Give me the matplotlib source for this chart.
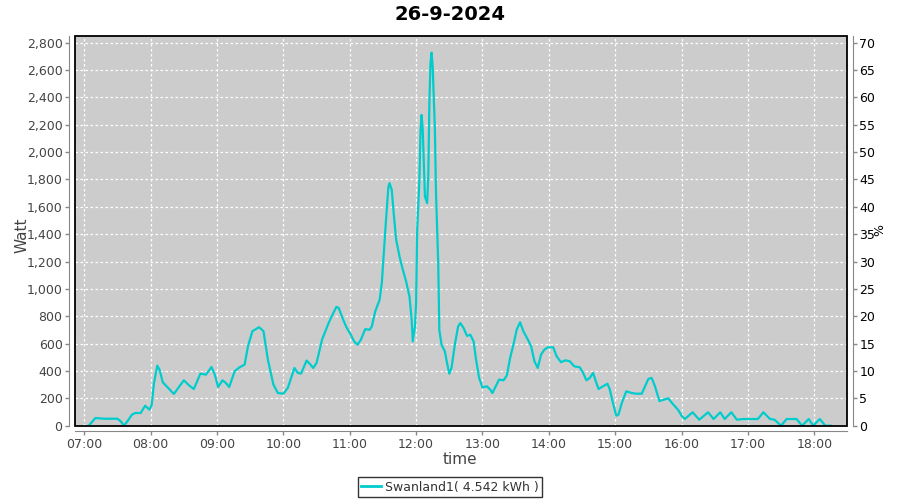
import matplotlib
matplotlib.use("Agg")
import matplotlib.pyplot as plt
from matplotlib.patches import Rectangle
from matplotlib.lines import Line2D
import matplotlib.transforms as mtransforms

title = "26-9-2024"
series_name = "Swanland1( 4.542 kWh )"

times = [
    "07:04", "07:10", "07:18", "07:30", "07:33", "07:36", "07:40", "07:43", "07:46", "07:51",
    "07:55", "07:59", "08:01", "08:03", "08:06", "08:08", "08:11", "08:15", "08:21", "08:26",
    "08:30", "08:35", "08:39", "08:45", "08:50", "08:55", "08:58", "09:01", "09:05", "09:08",
    "09:11", "09:16", "09:20", "09:25", "09:28", "09:32", "09:38", "09:42", "09:46", "09:51",
    "09:55", "10:00", "10:04", "10:10", "10:13", "10:16", "10:21", "10:24", "10:27", "10:30",
    "10:35", "10:41", "10:44", "10:48", "10:50", "10:54", "10:57", "11:01", "11:04", "11:07",
    "11:10", "11:14", "11:18", "11:20", "11:23", "11:27", "11:29", "11:31", "11:33", "11:35",
    "11:36", "11:38", "11:40", "11:42", "11:45", "11:48", "11:51", "11:54", "11:56", "11:57",
    "11:59", "12:00", "12:01", "12:03", "12:04", "12:05", "12:06", "12:07", "12:08", "12:10",
    "12:11", "12:12", "12:13", "12:14", "12:15", "12:17", "12:18", "12:20", "12:21", "12:23",
    "12:26", "12:28", "12:30", "12:32", "12:35", "12:38", "12:40", "12:43", "12:46", "12:49",
    "12:52", "12:54", "12:57", "13:00", "13:04", "13:07", "13:09", "13:12", "13:15", "13:19",
    "13:22", "13:25", "13:28", "13:31", "13:34", "13:37", "13:41", "13:44", "13:47", "13:50",
    "13:53", "13:56", "13:59", "14:04", "14:07", "14:11", "14:15", "14:19", "14:23", "14:28",
    "14:31", "14:34", "14:37", "14:40", "14:43", "14:45", "14:49", "14:53", "14:55", "14:58",
    "15:01", "15:03", "15:06", "15:10", "15:15", "15:19", "15:24", "15:27", "15:30", "15:33",
    "15:36", "15:40", "15:43", "15:48", "15:52", "15:57", "16:00", "16:03", "16:10", "16:16",
    "16:24", "16:29", "16:35", "16:39", "16:45", "16:50", "16:56", "17:03", "17:09", "17:14",
    "17:20", "17:24", "17:30", "17:35", "17:44", "17:49", "17:55", "17:59", "18:05", "18:10",
    "18:15",
]
watts = [
    0, 56, 51, 51, 32, 0, 44, 80, 93, 93,
    146, 117, 154, 312, 439, 410, 317, 283, 232, 288,
    332, 293, 268, 381, 373, 429, 373, 283, 332, 312,
    283, 398, 425, 447, 581, 691, 720, 691, 483, 300,
    239, 234, 276, 422, 386, 381, 476, 451, 422, 459,
    630, 752, 805, 869, 861, 776, 720, 665, 616, 592,
    628, 706, 701, 726, 835, 920, 1042, 1286, 1529, 1748,
    1773, 1724, 1529, 1359, 1237, 1140, 1054, 945, 774, 616,
    726, 896, 1432, 1797, 2162, 2272, 2162, 1919, 1675, 1627,
    1821, 2357, 2649, 2727, 2625, 2162, 1700, 1188, 700, 592,
    543, 458, 380, 421, 592, 726, 750, 713, 657, 665,
    616, 494, 348, 280, 288, 264, 239, 288, 337, 332,
    366, 495, 593, 703, 756, 690, 630, 581, 471, 422,
    520, 556, 573, 573, 508, 464, 478, 471, 434, 427,
    386, 332, 349, 386, 312, 268, 288, 307, 268, 166,
    73, 81, 166, 251, 239, 234, 234, 288, 342, 349,
    288, 180, 188, 200, 160, 115, 73, 49, 98, 44,
    98, 49, 98, 49, 98, 44, 49, 49, 49, 98,
    49, 44, 0, 49, 49, 0, 49, 0, 49, 0,
    0,
]
hour_ticks = list(range(7, 19))
watt_ticks = list(range(0, 2801, 200))
pct_ticks = list(range(0, 71, 5))

def to_hours(s):
    h, m = s.split(":")
    return int(h) + int(m) / 60.0

x = [to_hours(t) for t in times]

plt.rcParams['font.family'] = ['DejaVu Sans']
fig = plt.figure(figsize=(9, 5), dpi=100)
ax = fig.add_axes([75/900, 1-425.7/500, (847-75)/900, (425.7-35.7)/500])
ax.set_facecolor('#cccccc')

line_color = '#00cccc'
ax.plot(x, watts, color=line_color, lw=1.6, zorder=3)

ax.set_xlim(7 - 8.4/60, 18 + 29.6/60)
ymax = 2851
ax.set_ylim(0, ymax)
ax.set_xticks(hour_ticks)
ax.set_xticklabels([f"{h:02d}:00" for h in hour_ticks])
ax.set_yticks(watt_ticks)
ax.set_yticklabels([f"{v:,}" for v in watt_ticks])
ax.grid(True, color='white', linestyle=(0, (2, 2)), lw=0.9)
ax.set_axisbelow(True)

tick_color = '#444444'
axis_gray = '#888888'
for side in ['left', 'bottom']:
    ax.spines[side].set_position(('outward', 4))
    ax.spines[side].set_color(axis_gray)
ax.spines['top'].set_visible(False)
ax.spines['right'].set_visible(False)
ax.add_patch(Rectangle((0, 0), 1, 1, transform=ax.transAxes, fill=False,
                       edgecolor='black', lw=1.3, zorder=5, clip_on=False))
ax.tick_params(axis='both', colors=axis_gray, labelcolor=tick_color,
               labelsize=9, length=3, width=1, direction='out')
ax.tick_params(axis='x', pad=2)
ax.tick_params(axis='y', pad=2)

ax2 = ax.twinx()
ax2.set_ylim(0, ymax / 40.0)
ax2.set_yticks(pct_ticks)
ax2.set_yticklabels([str(v) for v in pct_ticks])
for side in ['left', 'top', 'bottom']:
    ax2.spines[side].set_visible(False)
ax2.spines['right'].set_position(('outward', 4))
ax2.spines['right'].set_color(axis_gray)
ax2.tick_params(axis='y', colors=axis_gray, labelcolor='black',
                labelsize=9, length=3, width=1, pad=2)

fig.text(0.5, 1 - 14/500, title, ha='center', va='center', fontsize=14,
         fontweight='bold', color='black')
fig.text(22/900, 1 - 235/500, "Watt", ha='center', va='center', rotation=90,
         fontsize=11, color='#444444')
fig.text(880/900, 1 - 230/500, "%", ha='center', va='center', rotation=90,
         fontsize=9, color='black')
fig.text(460/900, 1 - 460/500, "time", ha='center', va='center',
         fontsize=11, color='#444444')

handle = Line2D([], [], color=line_color, lw=2)
leg = fig.legend([handle], [series_name], loc='center',
                 bbox_to_anchor=(450/900, 1 - 487/500), frameon=True,
                 fancybox=False, edgecolor='black', fontsize=9,
                 handlelength=1.6, handletextpad=0.3, borderpad=0.25,
                 borderaxespad=0)
leg.get_frame().set_linewidth(1.0)
for t in leg.get_texts():
    t.set_color('#333333')

fig.savefig("out.png", dpi=100, facecolor='white')
